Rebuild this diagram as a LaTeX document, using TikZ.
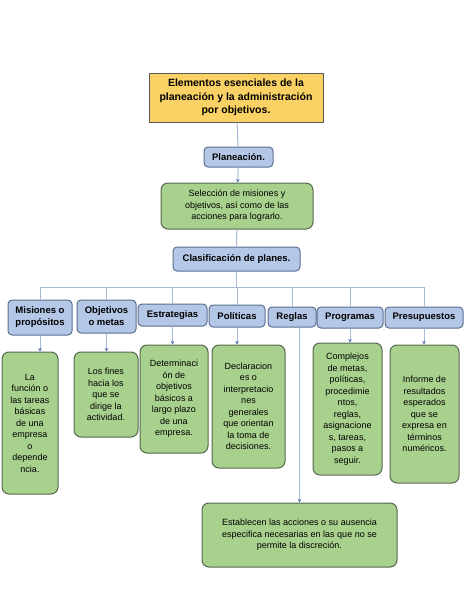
\documentclass[tikz,border=0pt]{standalone}
\usepackage{fontspec}
\setmainfont{Liberation Sans}
\usetikzlibrary{positioning,arrows.meta}

\definecolor{titlefill}{HTML}{FAD165}
\definecolor{bluefill}{HTML}{B4C7E7}
\definecolor{blueline}{HTML}{5A6F90}
\definecolor{greenfill}{HTML}{A9D18E}
\definecolor{greenline}{HTML}{55684F}
\definecolor{linkcol}{HTML}{A7B8D8}
\definecolor{tipcol}{HTML}{5673B0}

\tikzset{
  titlebox/.style={draw=black!65, fill=titlefill, line width=1pt, align=center,
    font=\fontsize{10.5}{13.5}\selectfont\bfseries, inner sep=1pt},
  headbox/.style={draw=blueline, fill=bluefill, line width=1pt, rounded corners=4pt,
    align=center, font=\fontsize{9.5}{12}\selectfont\bfseries, inner sep=1pt},
  greenbox/.style={draw=greenline, fill=greenfill, line width=1pt, rounded corners=7pt,
    align=center, font=\fontsize{9}{11.5}\selectfont, inner sep=1pt},
  link/.style={draw=linkcol, line width=1pt},
  arrowlink/.style={link, -{Stealth[length=3.5pt,width=3.5pt,color=tipcol]}}
}

\begin{document}
\begin{tikzpicture}[x=1pt,y=-1pt]
  \useasboundingbox (0,0) rectangle (474,613);

  % Top of the chart
  \node[titlebox, minimum width=174pt, minimum height=49pt] (title) at (236,97.5)
    {Elementos esenciales de la\\planeación y la administración\\por objetivos.};
  \node[headbox, minimum width=69pt, minimum height=20pt] (plan) at (238.5,157) {Planeación.};
  \node[greenbox, minimum width=152pt, minimum height=46pt] (sel) at (237,206)
    {Selección de misiones y\\objetivos, así como de las\\acciones para lograrlo.};
  \node[headbox, minimum width=127pt, minimum height=24pt] (clas) at (236.5,259) {Clasificación de planes.};
  \coordinate (bar) at (236.5,287);

  % Kinds of plans
  \node[headbox, minimum width=64pt, minimum height=35pt] (misn) at (40,317.5) {Misiones o\\propósitos};
  \node[headbox, minimum width=59pt, minimum height=33pt] (objt) at (106.5,316.5) {Objetivos\\o metas};
  \node[headbox, minimum width=69pt, minimum height=22pt] (estr) at (172.5,315) {Estrategias};
  \node[headbox, minimum width=56pt, minimum height=22pt] (poli) at (237,316) {Políticas};
  \node[headbox, minimum width=48pt, minimum height=20pt] (regl) at (292,317) {Reglas};
  \node[headbox, minimum width=66pt, minimum height=21pt] (prog) at (350,317.5) {Programas};
  \node[headbox, minimum width=78pt, minimum height=21pt] (pres) at (424,317.5) {Presupuestos};

  % Descriptions
  \node[greenbox, minimum width=56pt, minimum height=142pt] (dmisn) at (30,423)
    {La\\función o\\las tareas\\básicas\\de una\\empresa\\o\\depende\\ncia.};
  \node[greenbox, minimum width=64pt, minimum height=85pt] (dobjt) at (106,394.5)
    {Los fines\\hacia los\\que se\\dirige la\\actividad.};
  \node[greenbox, minimum width=68pt, minimum height=108pt] (destr) at (174,399)
    {Determinaci\\ón de\\objetivos\\básicos a\\largo plazo\\de una\\empresa.};
  \node[greenbox, minimum width=73pt, minimum height=123pt] (dpoli) at (248.5,406.5)
    {Declaracion\\es o\\interpretacio\\nes\\generales\\que orientan\\la toma de\\decisiones.};
  \node[greenbox, minimum width=69pt, minimum height=132pt] (dprog) at (347.5,409)
    {Complejos\\de metas,\\políticas,\\procedimie\\ntos,\\reglas,\\asignacione\\s, tareas,\\pasos a\\seguir.};
  \node[greenbox, minimum width=69pt, minimum height=138pt] (dpres) at (424.5,414)
    {Informe de\\resultados\\esperados\\que se\\expresa en\\términos\\numéricos.};
  \node[greenbox, minimum width=195pt, minimum height=64pt] (dregl) at (299.5,535)
    {Establecen las acciones o su ausencia\\especifica necesarias en las que no se\\permite la discreción.};

  % Connectors
  \draw[link] (title) -- (plan);
  \draw[arrowlink] (plan) -- (sel);
  \draw[link] (sel) -- (clas);
  \draw[link] (clas) -- (bar);
  \draw[link] (misn.north |- bar) -- (pres.north |- bar);
  \foreach \k in {misn, objt, estr, poli, regl, prog, pres} {
    \draw[link] (\k.north |- bar) -- (\k.north);
  }
  \foreach \k in {misn, objt, estr, poli, prog, pres} {
    \draw[arrowlink] (\k.south) -- (\k.south |- d\k.north);
  }
  \draw[arrowlink] (dregl.north |- regl.south) -- (dregl.north);
\end{tikzpicture}
\end{document}
